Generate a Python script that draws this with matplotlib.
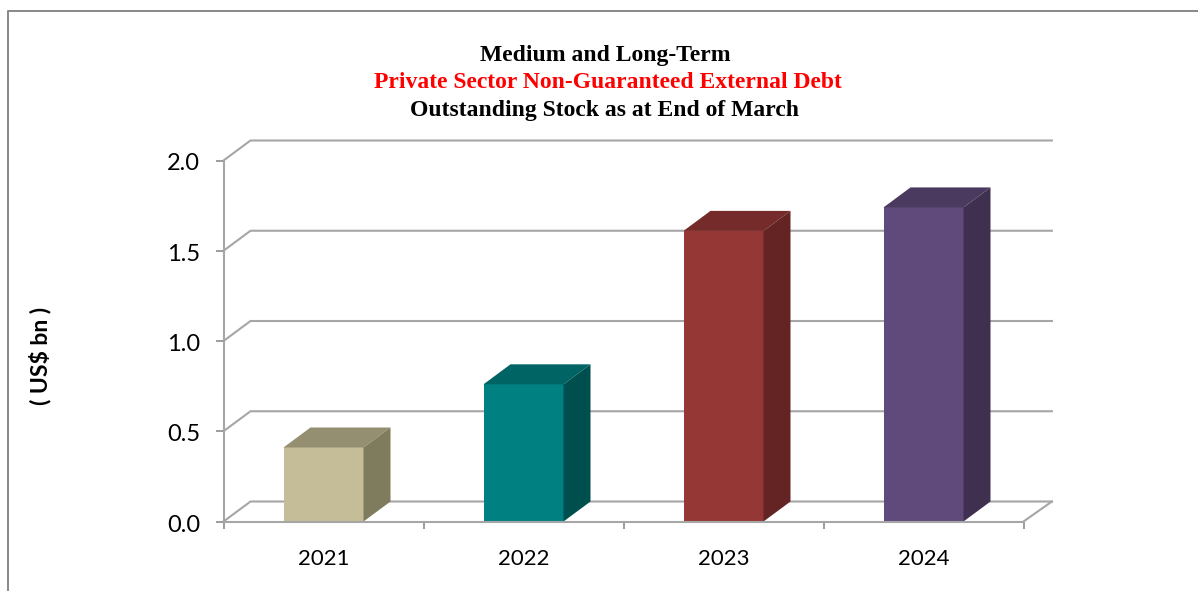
# plot.py

import matplotlib
matplotlib.use("Agg")
import matplotlib.pyplot as plt
from matplotlib.lines import Line2D
from matplotlib.patches import Polygon
from matplotlib.transforms import ScaledTranslation


years = ["2021", "2022", "2023", "2024"]
stock = [0.41, 0.76, 1.61, 1.74]
y_ticks = [0.0, 0.5, 1.0, 1.5, 2.0]

front_colors = ["#c4bd97", "#008080", "#953735", "#604a7b"]
top_colors = ["#958f72", "#006464", "#752b29", "#4b3a60"]
side_colors = ["#7f7b5d", "#004f4f", "#632423", "#3f3050"]

title_lines = [
    ("Medium and Long-Term", "black", 605, 55.5),
    ("Private Sector Non-Guaranteed External Debt", "red", 607.5, 82.5),
    ("Outstanding Stock as at End of March", "black", 604, 110.5),
]

W, H = 1198, 591
GREY = "#a6a6a6"
BAR_WIDTH = 0.4
DEPTH_X = 27 / 200
DEPTH_Y = 20 / 180.5


def fx(px):
    return px / W


def fy(px):
    return 1 - px / H


def draw_walls(ax):
    # gridlines run up the side wall, then along the back wall
    x0, x1 = ax.get_xlim()
    for tick in y_ticks:
        ax.plot(
            [x0, x0 + DEPTH_X, x1 + DEPTH_X + 0.007],
            [tick, tick + DEPTH_Y, tick + DEPTH_Y],
            color=GREY, lw=1.5, clip_on=False, zorder=1,
        )
    ax.plot(
        [x1 + DEPTH_X + 0.007, x1], [DEPTH_Y, 0],
        color=GREY, lw=1.5, clip_on=False, zorder=1,
    )


def draw_bar(ax, x, value, front, top, side):
    left = x - BAR_WIDTH / 2
    right = x + BAR_WIDTH / 2
    ax.add_patch(Polygon(
        [(left, 0), (right, 0), (right, value), (left, value)],
        facecolor=front, edgecolor="none", clip_on=False, zorder=3,
    ))
    ax.add_patch(Polygon(
        [(left, value), (right, value),
         (right + DEPTH_X, value + DEPTH_Y), (left + DEPTH_X, value + DEPTH_Y)],
        facecolor=top, edgecolor="none", clip_on=False, zorder=3,
    ))
    ax.add_patch(Polygon(
        [(right, 0), (right + DEPTH_X, DEPTH_Y),
         (right + DEPTH_X, value + DEPTH_Y), (right, value)],
        facecolor=side, edgecolor="none", clip_on=False, zorder=3,
    ))


def main():
    fig = plt.figure(figsize=(W / 100, H / 100), dpi=100, facecolor="white")
    ax = fig.add_axes([fx(223.5), fy(521.5), fx(800), 361 / H])
    ax.set_xlim(0.5, 4.5)
    ax.set_ylim(0, 2.0)
    ax.patch.set_alpha(0)

    draw_walls(ax)
    positions = range(1, len(years) + 1)
    for x, value, front, top, side in zip(positions, stock, front_colors, top_colors, side_colors):
        draw_bar(ax, x, value, front, top, side)

    for name in ["top", "right"]:
        ax.spines[name].set_visible(False)
    for name in ["left", "bottom"]:
        ax.spines[name].set_color(GREY)
        ax.spines[name].set_linewidth(1.5)
        ax.spines[name].set_zorder(4)

    ax.set_yticks(y_ticks)
    ax.set_yticklabels([f"{t:.1f}" for t in y_ticks], family="Lato", fontsize=17, color="black")
    ax.tick_params(axis="y", length=6, width=1.2, color="#8c8c8c", pad=11)
    # labels sit a little under their ticks in the original
    nudge = ScaledTranslation(0, -1.5 / 100, fig.dpi_scale_trans)
    for label in ax.get_yticklabels():
        label.set_transform(label.get_transform() + nudge)

    # x ticks mark category edges, labels sit at the centres
    ax.set_xticks([0.5, 1.5, 2.5, 3.5, 4.5])
    ax.set_xticklabels([])
    ax.tick_params(axis="x", length=5, width=1.2, color="#8c8c8c")
    ax.set_xticks(list(positions), minor=True)
    ax.set_xticklabels(years, minor=True, family="Lato", fontsize=16, color="black")
    ax.tick_params(axis="x", which="minor", length=0, pad=19.5)

    for text, color, x, y in title_lines:
        fig.text(
            fx(x), fy(y), text, color=color, ha="center", va="center",
            family="Liberation Serif", fontweight="bold", fontsize=17,
        )

    fig.text(
        fx(40), fy(356), "( US$ bn )", rotation=90, ha="center", va="center",
        family="Lato", fontweight="bold", fontsize=16.5, color="black",
    )

    # outer frame of the page, open on the right and bottom
    frame = Line2D(
        [fx(8), fx(8), fx(W)], [fy(H), fy(11), fy(11)],
        transform=fig.transFigure, color="#888888", lw=1.4,
    )
    fig.add_artist(frame)

    fig.savefig("out.png", dpi=100)
    plt.close(fig)


if __name__ == "__main__":
    main()
